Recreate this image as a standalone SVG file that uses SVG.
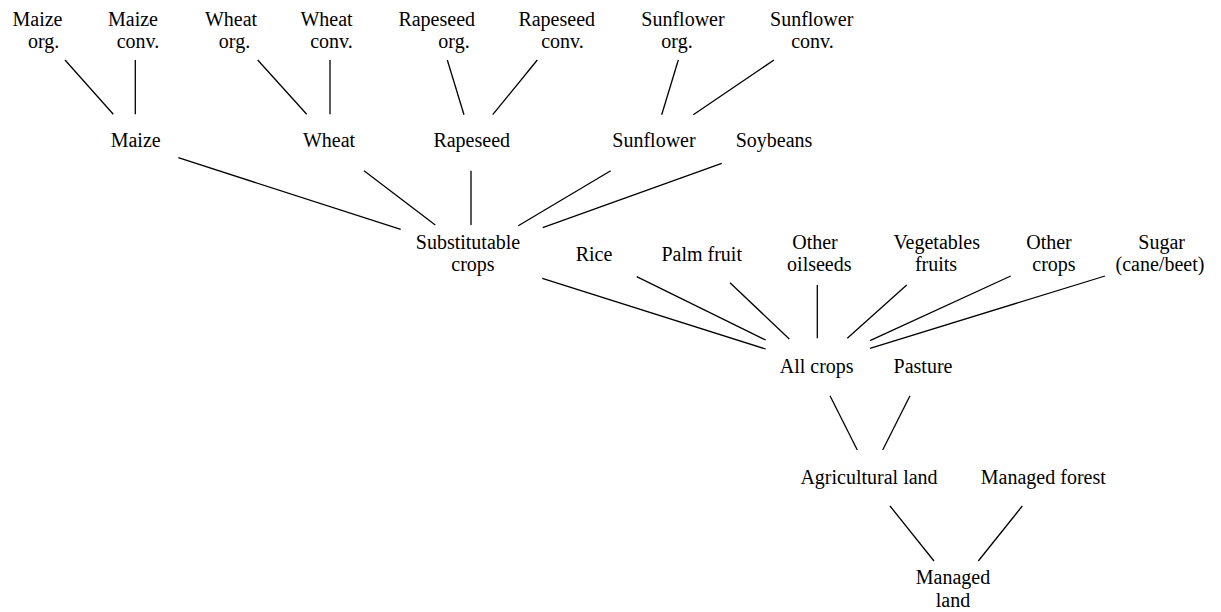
<svg xmlns="http://www.w3.org/2000/svg" width="1221" height="612" viewBox="0 0 1221 612">
<style>
text { font-family: "Liberation Serif", "Times New Roman", serif; font-size: 20px; fill: #000; text-anchor: middle; }
.c line { stroke: #000; stroke-width: 1.3; }
</style>
<rect width="1221" height="612" fill="#fff"/>
<g class="c" id="connectors">
<line x1="65" y1="60" x2="113.3" y2="114.3"/>
<line x1="135.3" y1="60" x2="135.3" y2="114.3"/>
<line x1="257.7" y1="60" x2="306.7" y2="114.3"/>
<line x1="330" y1="60" x2="330" y2="114.3"/>
<line x1="447.3" y1="60" x2="464" y2="114.7"/>
<line x1="537.3" y1="60" x2="492.7" y2="114.7"/>
<line x1="678.3" y1="60" x2="661.7" y2="114.7"/>
<line x1="774" y1="60" x2="693.3" y2="114.7"/>
<line x1="178.3" y1="157.7" x2="400.7" y2="229.3"/>
<line x1="364" y1="170.7" x2="435.3" y2="225"/>
<line x1="471" y1="170.7" x2="471" y2="225"/>
<line x1="610.7" y1="170.7" x2="518.3" y2="225.7"/>
<line x1="721.7" y1="163.3" x2="542.7" y2="227.7"/>
<line x1="542.3" y1="278.3" x2="765.7" y2="349"/>
<line x1="636.7" y1="276.7" x2="765.7" y2="340"/>
<line x1="730" y1="282.7" x2="789.3" y2="339"/>
<line x1="817.3" y1="285" x2="817.3" y2="338.3"/>
<line x1="906.7" y1="285" x2="847.3" y2="338.3"/>
<line x1="1010.7" y1="276" x2="870" y2="340.7"/>
<line x1="1105" y1="276" x2="870" y2="348.3"/>
<line x1="830" y1="395.7" x2="857.3" y2="450"/>
<line x1="910" y1="395.7" x2="882.7" y2="450"/>
<line x1="890" y1="506" x2="934" y2="561"/>
<line x1="1022.3" y1="506" x2="978.3" y2="561"/>
</g>
<g id="maize_org"><text><tspan x="37.5" y="26">Maize</tspan><tspan x="43.7" y="48">org.</tspan></text></g>
<g id="maize_conv"><text><tspan x="133" y="26">Maize</tspan><tspan x="138" y="48">conv.</tspan></text></g>
<g id="wheat_org"><text><tspan x="231" y="26">Wheat</tspan><tspan x="234.5" y="48">org.</tspan></text></g>
<g id="wheat_conv"><text><tspan x="326.5" y="26">Wheat</tspan><tspan x="331.5" y="48">conv.</tspan></text></g>
<g id="rapeseed_org"><text><tspan x="436.7" y="26">Rapeseed</tspan><tspan x="454" y="48">org.</tspan></text></g>
<g id="rapeseed_conv"><text><tspan x="556.7" y="26">Rapeseed</tspan><tspan x="562.5" y="48">conv.</tspan></text></g>
<g id="sunflower_org"><text><tspan x="683" y="26">Sunflower</tspan><tspan x="677" y="48">org.</tspan></text></g>
<g id="sunflower_conv"><text><tspan x="811.7" y="26">Sunflower</tspan><tspan x="812.5" y="48">conv.</tspan></text></g>
<g id="maize"><text x="135.7" y="147">Maize</text></g>
<g id="wheat"><text x="329" y="147">Wheat</text></g>
<g id="rapeseed"><text x="471.7" y="147">Rapeseed</text></g>
<g id="sunflower"><text x="654" y="147">Sunflower</text></g>
<g id="soybeans"><text x="774" y="147">Soybeans</text></g>
<g id="substitutable"><text><tspan x="468" y="249">Substitutable</tspan><tspan x="473" y="271">crops</tspan></text></g>
<g id="rice"><text x="594" y="261">Rice</text></g>
<g id="palm_fruit"><text x="701.7" y="261">Palm fruit</text></g>
<g id="other_oilseeds"><text><tspan x="815" y="249">Other</tspan><tspan x="819.3" y="271">oilseeds</tspan></text></g>
<g id="vegetables_fruits"><text><tspan x="936.7" y="249">Vegetables</tspan><tspan x="936" y="271">fruits</tspan></text></g>
<g id="other_crops"><text><tspan x="1049" y="249">Other</tspan><tspan x="1054" y="271">crops</tspan></text></g>
<g id="sugar"><text><tspan x="1161.7" y="249">Sugar</tspan><tspan x="1160" y="271">(cane/beet)</tspan></text></g>
<g id="all_crops"><text x="816.7" y="373">All crops</text></g>
<g id="pasture"><text x="923" y="373">Pasture</text></g>
<g id="agricultural_land"><text x="869" y="484">Agricultural land</text></g>
<g id="managed_forest"><text x="1043.3" y="484">Managed forest</text></g>
<g id="managed_land"><text><tspan x="953" y="584">Managed</tspan><tspan x="953" y="607">land</tspan></text></g>
</svg>
